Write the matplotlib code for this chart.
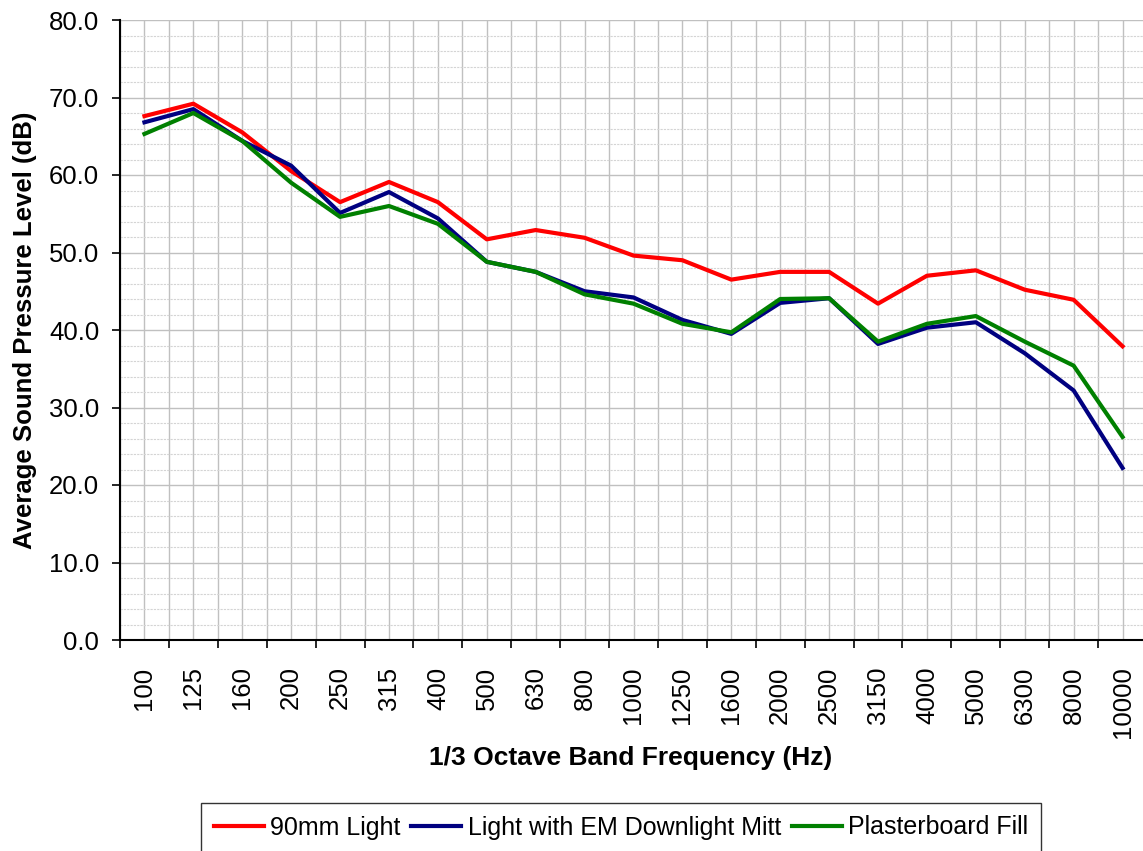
import numpy as np
import matplotlib.pyplot as plt
from matplotlib.ticker import MultipleLocator, FixedLocator

plt.rcParams["font.family"] = ["Liberation Sans", "DejaVu Sans"]

# 1/3 octave band centre frequencies
bands = ["100", "125", "160", "200", "250", "315", "400", "500", "630", "800",
         "1000", "1250", "1600", "2000", "2500", "3150", "4000", "5000",
         "6300", "8000", "10000"]

# average sound pressure level (dB)
light_90mm = [67.6, 69.2, 65.5, 60.5, 56.5, 59.1, 56.5, 51.7, 52.9, 51.9,
              49.6, 49.0, 46.5, 47.5, 47.5, 43.4, 47.0, 47.7, 45.2, 43.9, 37.9]
em_mitt = [66.8, 68.5, 64.4, 61.2, 55.1, 57.8, 54.4, 48.8, 47.5, 45.0,
           44.2, 41.3, 39.5, 43.5, 44.1, 38.2, 40.3, 41.0, 37.0, 32.2, 22.2]
plasterboard = [65.3, 68.0, 64.4, 59.0, 54.6, 56.0, 53.7, 48.8, 47.5, 44.6,
                43.4, 40.8, 39.7, 44.0, 44.1, 38.5, 40.8, 41.8, 38.5, 35.4, 26.2]

x = np.arange(len(bands))

fig = plt.figure(figsize=(11.43, 8.51), dpi=100)
ax = fig.add_axes([120 / 1143, 1 - 640 / 851, 1027 / 1143, 620 / 851])

ax.plot(x, light_90mm, color="#ff0000", lw=3, label="90mm Light", zorder=3)
ax.plot(x, em_mitt, color="#000080", lw=3, label="Light with EM Downlight Mitt", zorder=3)
ax.plot(x, plasterboard, color="#008000", lw=3, label="Plasterboard Fill", zorder=3)

ax.set_xlim(-0.5, len(bands) - 0.5)
ax.set_ylim(0, 80)

# category labels at centres, tick marks at boundaries
ax.xaxis.set_major_locator(FixedLocator(x))
ax.set_xticklabels(bands, rotation=90, fontsize=18.5)
ax.xaxis.set_minor_locator(FixedLocator(np.arange(len(bands) + 1) - 0.5))
ax.tick_params(axis="x", which="major", length=0, pad=19)
ax.tick_params(axis="x", which="minor", length=6, width=1.2, direction="out")

ax.yaxis.set_major_locator(MultipleLocator(10))
ax.yaxis.set_minor_locator(MultipleLocator(2))
ax.set_yticks(np.arange(0, 81, 10))
ax.set_yticklabels([f"{v:.1f}" for v in np.arange(0, 81, 10)], fontsize=18.5)
ax.tick_params(axis="y", which="major", length=6, width=1.2, direction="out", pad=9)
ax.tick_params(axis="y", which="minor", length=0)

ax.grid(True, axis="x", which="both", color="#c0c0c0", lw=1.0)
ax.grid(True, axis="y", which="major", color="#c0c0c0", lw=1.0)
ax.grid(True, axis="y", which="minor", color="#d4d4d4", lw=0.8, linestyle=(0, (2, 1)))
ax.set_axisbelow(True)

for side in ["top", "right"]:
    ax.spines[side].set_visible(False)
ax.spines["left"].set_linewidth(1.5)
ax.spines["bottom"].set_linewidth(1.5)

ax.set_xlabel("1/3 Octave Band Frequency (Hz)", fontsize=19, fontweight="bold")
ax.set_ylabel("Average Sound Pressure Level (dB)", fontsize=18.5, fontweight="bold")
ax.xaxis.set_label_coords(0.497, -(746 - 640) / 620)
ax.yaxis.set_label_coords((37 - 120) / 1027, 0.5)

leg = fig.legend(loc="upper center", bbox_to_anchor=(621 / 1143, 1 - 803 / 851), ncol=3,
                 fontsize=18, frameon=True, fancybox=False, handlelength=2.0,
                 handletextpad=0.25, columnspacing=0.45, borderpad=0.5, borderaxespad=0)
leg.get_frame().set_edgecolor("black")
leg.get_frame().set_linewidth(1.0)

fig.savefig("out.png", dpi=100)
